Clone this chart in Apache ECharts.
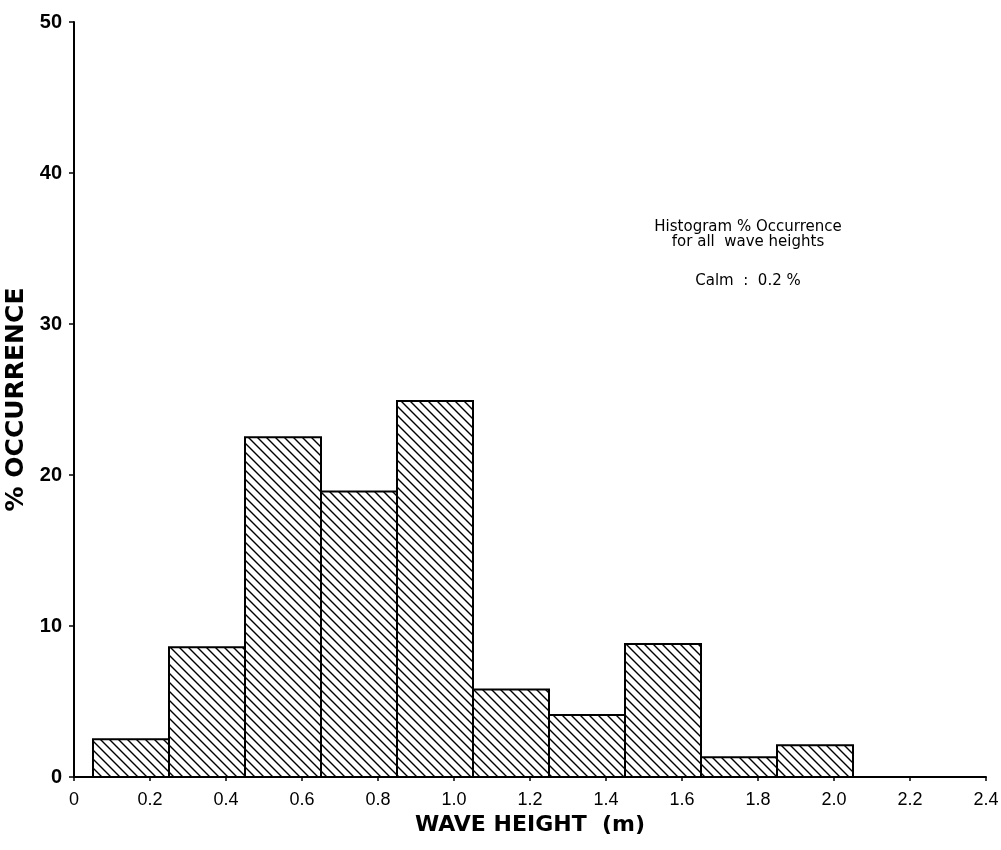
<!DOCTYPE html>
<html>
<head>
<meta charset="utf-8">
<title>Wave height histogram</title>
<script src="https://cdn.jsdelivr.net/npm/echarts@6/dist/echarts.min.js"></script>
<style>
  html, body { margin: 0; padding: 0; background: #fff; }
  #chart { width: 1001px; height: 850px; }
</style>
</head>
<body>
<div id="chart"></div>
<script>
// Histogram bins (wave height, m) and percentage of occurrence
const binStart = [0.05, 0.25, 0.45, 0.65, 0.85, 1.05, 1.25, 1.45, 1.65, 1.85];
const binEnd   = [0.25, 0.45, 0.65, 0.85, 1.05, 1.25, 1.45, 1.65, 1.85, 2.05];
const occurrence = [2.5, 8.6, 22.5, 18.9, 24.9, 5.8, 4.1, 8.8, 1.3, 2.1];

const xTickLabels = ['0', '0.2', '0.4', '0.6', '0.8', '1.0', '1.2', '1.4', '1.6', '1.8', '2.0', '2.2', '2.4'];
const yTicks = [0, 10, 20, 30, 40, 50];

const noteLines = ['Histogram % Occurrence', 'for all  wave heights', 'Calm  :  0.2 %'];

// diagonal hatch tile ("\" direction)
function hatchTile() {
  const s = 9;
  const c = document.createElement('canvas');
  c.width = s; c.height = s;
  const g = c.getContext('2d');
  g.strokeStyle = '#000';
  g.lineWidth = 1.4;
  g.beginPath();
  g.moveTo(-1, -1); g.lineTo(s + 1, s + 1);
  g.moveTo(s - 2, -2); g.lineTo(s + 2, 2);
  g.moveTo(-2, s - 2); g.lineTo(2, s + 2);
  g.stroke();
  return c;
}
const hatch = { image: hatchTile(), repeat: 'repeat' };

const bins = binStart.map((s, i) => [s, binEnd[i], occurrence[i]]);

const sans = 'Liberation Sans, Arial, sans-serif';
const wide = 'DejaVu Sans, Verdana, sans-serif';

const chart = echarts.init(document.getElementById('chart'), null, { renderer: 'canvas' });

chart.setOption({
  animation: false,
  backgroundColor: '#fff',
  grid: { left: 74, right: 15, top: 22, bottom: 73, containLabel: false, outerBoundsMode: 'none' },
  xAxis: {
    type: 'value', min: 0, max: 2.4, interval: 0.2,
    axisLine: { show: true, onZero: false, lineStyle: { color: '#000', width: 2 } },
    axisTick: { show: true, length: 4, inside: false, lineStyle: { color: '#000', width: 1.5 } },
    splitLine: { show: false },
    axisLabel: {
      color: '#000', fontFamily: sans, fontSize: 18, margin: 14,
      formatter: (v) => xTickLabels[Math.round(v / 0.2)]
    },
    name: 'WAVE HEIGHT  (m)', nameLocation: 'middle', nameGap: 37,
    nameTextStyle: { color: '#000', fontFamily: wide, fontWeight: 'bold', fontSize: 22 }
  },
  yAxis: {
    type: 'value', min: yTicks[0], max: yTicks[yTicks.length - 1], interval: 10,
    axisLine: { show: true, lineStyle: { color: '#000', width: 2 } },
    axisTick: { show: true, length: 5, lineStyle: { color: '#000', width: 1.5 } },
    splitLine: { show: false },
    axisLabel: { color: '#000', fontFamily: sans, fontWeight: 'bold', fontSize: 20, margin: 12 },
    name: '% OCCURRENCE', nameLocation: 'middle', nameGap: 36, nameRotate: 90,
    nameTextStyle: { color: '#000', fontFamily: wide, fontWeight: 'bold', fontSize: 25 }
  },
  graphic: [
    { type: 'text', x: 748, y: 227, style: { text: noteLines[0], font: '15px ' + wide, fill: '#000', align: 'center', verticalAlign: 'middle' } },
    { type: 'text', x: 748, y: 242, style: { text: noteLines[1], font: '15px ' + wide, fill: '#000', align: 'center', verticalAlign: 'middle' } },
    { type: 'text', x: 748, y: 281, style: { text: noteLines[2], font: '15px ' + wide, fill: '#000', align: 'center', verticalAlign: 'middle' } }
  ],
  series: [{
    type: 'custom',
    data: bins,
    encode: { x: [0, 1], y: 2 },
    renderItem: (params, api) => {
      const base = api.coord([api.value(0), 0]);
      const top = api.coord([api.value(1), api.value(2)]);
      return {
        type: 'rect',
        shape: { x: base[0], y: top[1], width: top[0] - base[0], height: base[1] - top[1] },
        style: { fill: hatch, stroke: '#000', lineWidth: 2 }
      };
    }
  }]
});
</script>
</body>
</html>
